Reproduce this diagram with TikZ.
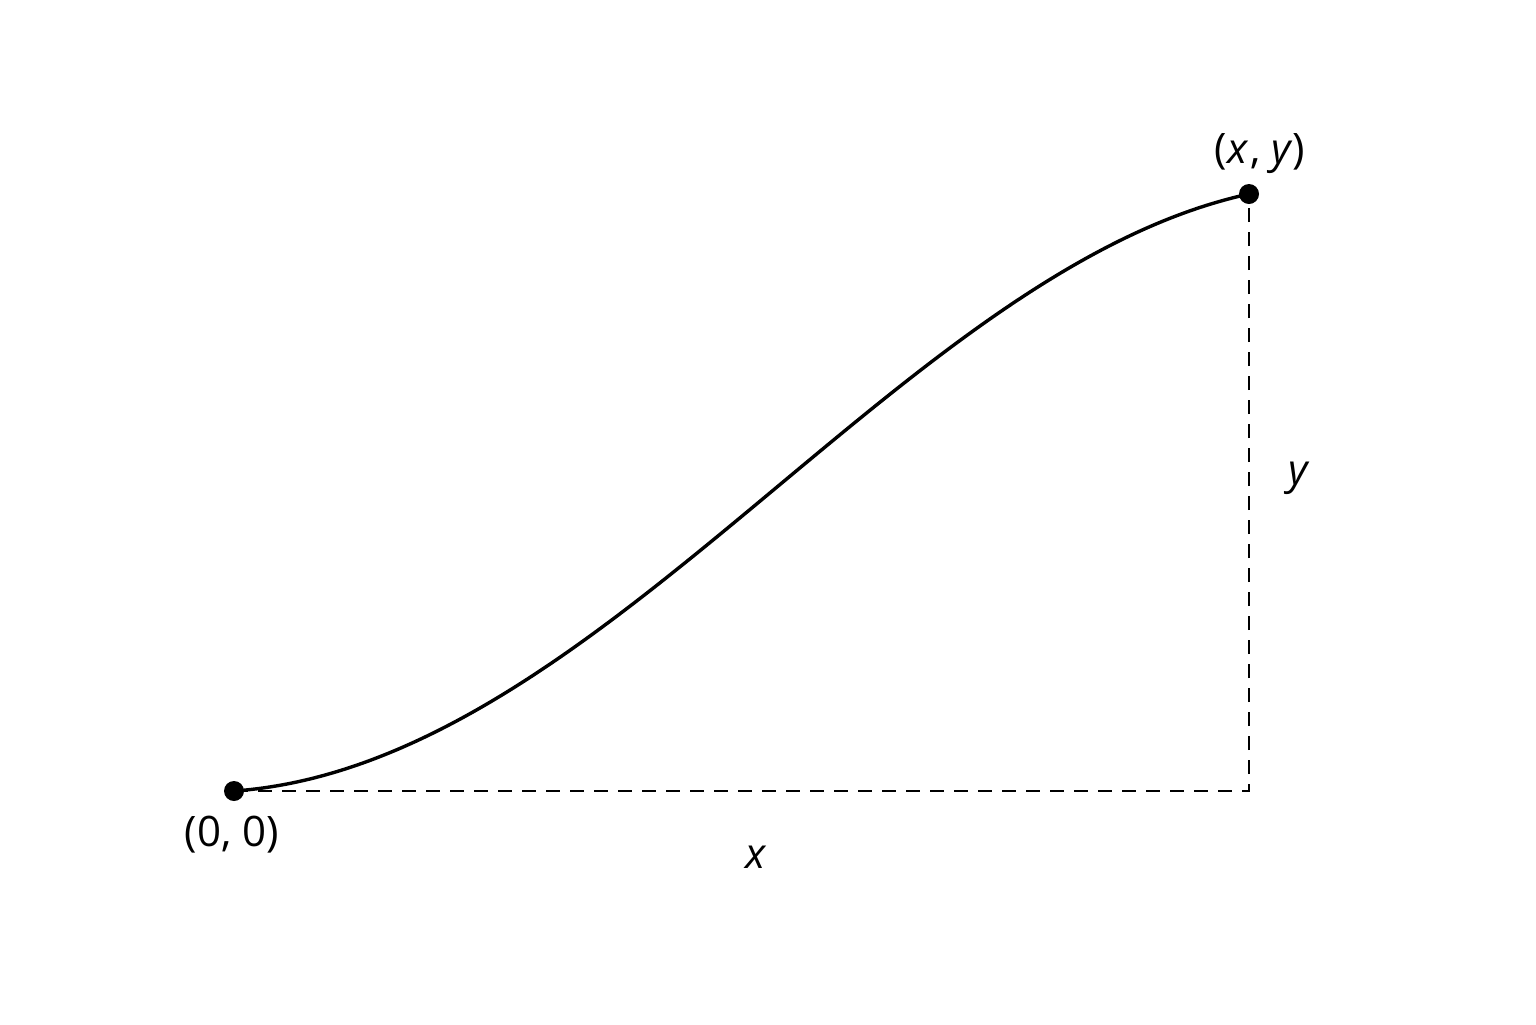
\documentclass[tikz,border=0pt]{standalone}
\usepackage{fontspec}
\setmainfont{Open Sans}
\begin{document}
\begin{tikzpicture}[x=0.5pt,y=-0.5pt,
  curve/.style={line width=1.7pt},
  guide/.style={line width=1.3pt, dash pattern=on 7pt off 5pt},
  pt/.style={circle, fill=black, inner sep=0pt, minimum size=10pt},
  lbl/.style={font=\fontsize{21}{24}\selectfont, inner sep=0pt}]
\useasboundingbox (0,0) rectangle (1536,1024);
\node[pt] (A) at (234,791) {};
\node[pt] (B) at (1249,194) {};
\coordinate (C) at (1249,791);
\draw[guide] (A.center) -- (C) -- (B.center);
\draw[curve] (A.center) .. controls (600,765) and (900,270) .. (B.center);
\node[lbl] (a) at (232,835) {(0, 0)};
\node[lbl] (b) at (1260,154) {(\textit{x}\kern1pt, \textit{y})};
\node[lbl] (lx) at (756,857) {\textit{x}};
\node[lbl] (ly) at (1299,478) {\textit{y}};
\end{tikzpicture}
\end{document}
